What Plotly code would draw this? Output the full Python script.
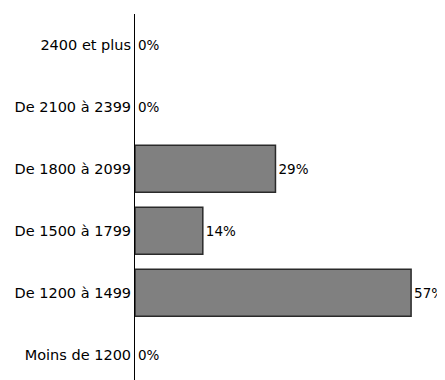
import plotly.graph_objects as go

categories = ["Moins de 1200", "De 1200 à 1499", "De 1500 à 1799",
              "De 1800 à 2099", "De 2100 à 2399", "2400 et plus"]
values = [0, 57, 14, 29, 0, 0]
labels = [f"{v}%" for v in values]

fig = go.Figure(go.Bar(
    y=categories, x=values, orientation="h",
    text=labels, textposition="outside", cliponaxis=False,
    textfont=dict(size=13.5, color="black"),
    marker=dict(color="#808080",
                line=dict(color="#2a2a2a", width=[1.5 if v > 0 else 0 for v in values])),
    width=0.76,
))
fig.update_layout(
    width=437, height=372,
    margin=dict(l=127, r=0, t=6, b=0),
    paper_bgcolor="white", plot_bgcolor="white",
    font=dict(family="DejaVu Sans", size=14.5, color="black"),
    showlegend=False,
    xaxis=dict(range=[0, 64], visible=False, automargin=False),
    yaxis=dict(type="category", categoryorder="array", categoryarray=categories,
               range=[-0.41, 5.5], showline=True, linecolor="black", linewidth=1,
               ticks="", showgrid=False, ticklabelstandoff=0, automargin=False),
    uniformtext=dict(minsize=13.5, mode="show"),
)
fig.write_html("out.html")
